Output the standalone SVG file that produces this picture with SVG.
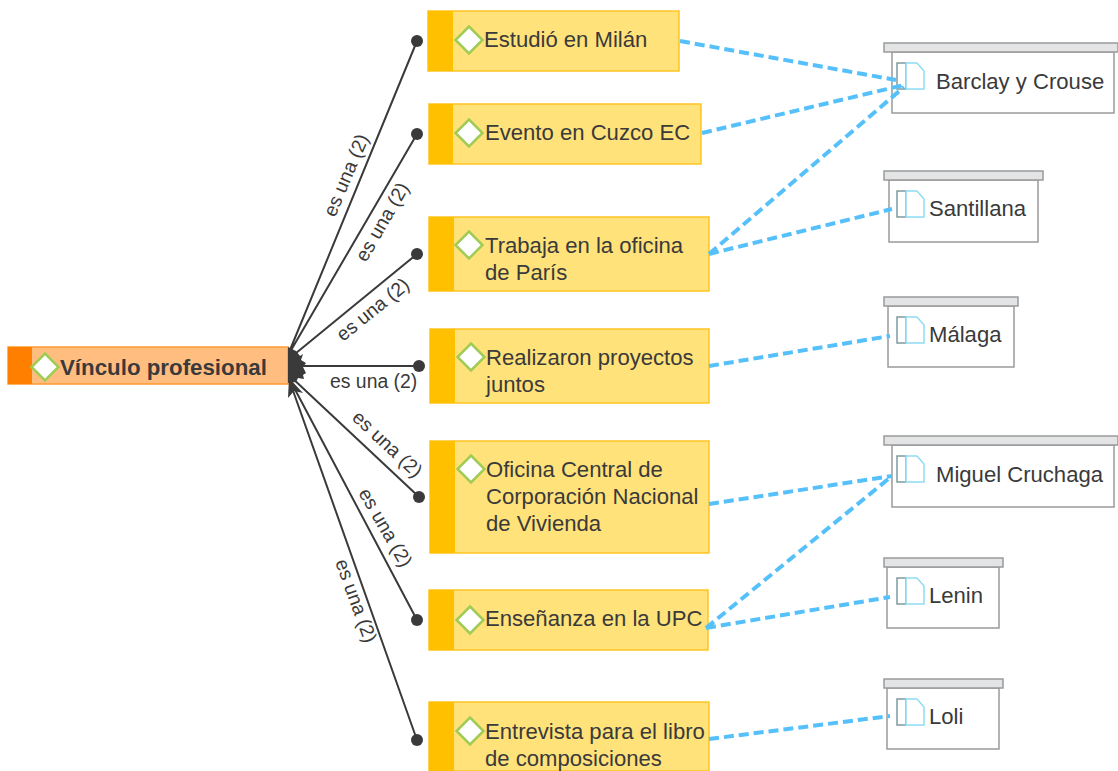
<svg xmlns="http://www.w3.org/2000/svg" width="1118" height="771" viewBox="0 0 1118 771">
<style>
text{font-family:"Liberation Sans",Arial,sans-serif;fill:#3a3a3a;font-size:22.1px}
.t{fill:#ffe27a;stroke:#ffc425;stroke-width:1.5}
.s{fill:#ffc000}
.d{fill:#fff;stroke:#a0cc55;stroke-width:2.5}
.b{fill:#fff;stroke:#9a9a9a;stroke-width:1.5}
.h{fill:#e2e4e6;stroke:#9a9a9a;stroke-width:1.5}
.p{fill:#fff;stroke:#8fdcf5;stroke-width:1.5}
.q{fill:none;stroke:#7f9a9f;stroke-width:1.5}
.k{stroke:#3a3a3a;stroke-width:2;fill:none}
.e{stroke:#55c0fa;stroke-width:4;stroke-dasharray:10 5;fill:none}
text.l{font-size:19.4px}
.o{fill:#3a3a3a}
</style>
<defs>
<g id="doc"><path class="q" d="M-9 0H0V26H-9Z"/><path class="p" d="M0 0H11L18 8V26H0Z"/></g>
<path id="dia" class="d" d="M0 -13.5L13.5 0L0 13.5L-13.5 0Z"/>
</defs>
<g id="n-vinculo"><rect x="8" y="347" width="280" height="37" fill="#ffbe80" stroke="#ff9a30" stroke-width="1.5"/><rect x="8" y="347" width="24" height="37" fill="#ff8000"/><use href="#dia" x="45" y="367"/><text x="60" y="375" font-weight="700" style="font-size:22.3px">Vínculo profesional</text></g>
<g id="n-milan"><rect class="t" x="428" y="11" width="251" height="60"/><rect class="s" x="428" y="11" width="25" height="60"/><use href="#dia" x="469" y="40"/><text x="484" y="47">Estudió en Milán</text></g>
<g id="n-cuzco"><rect class="t" x="429" y="104" width="272" height="60"/><rect class="s" x="429" y="104" width="24" height="60"/><use href="#dia" x="469" y="133"/><text x="485" y="140">Evento en Cuzco EC</text></g>
<g id="n-paris"><rect class="t" x="429" y="217" width="280" height="74"/><rect class="s" x="429" y="217" width="25" height="74"/><use href="#dia" x="469" y="245"/><text x="485" y="253">Trabaja en la oficina</text><text x="485" y="280">de París</text></g>
<g id="n-proyectos"><rect class="t" x="430" y="329" width="279" height="74"/><rect class="s" x="430" y="329" width="25" height="74"/><use href="#dia" x="471" y="357"/><text x="486" y="365">Realizaron proyectos</text><text x="486" y="392">juntos</text></g>
<g id="n-oficina"><rect class="t" x="430" y="441" width="279" height="112"/><rect class="s" x="430" y="441" width="25" height="112"/><use href="#dia" x="471" y="469"/><text x="486" y="477">Oficina Central de</text><text x="486" y="504">Corporación Nacional</text><text x="486" y="531">de Vivienda</text></g>
<g id="n-upc"><rect class="t" x="429" y="590" width="279" height="60"/><rect class="s" x="429" y="590" width="25" height="60"/><use href="#dia" x="470" y="620"/><text x="485" y="626">Enseñanza en la UPC</text></g>
<g id="n-entrevista"><rect class="t" x="429" y="702" width="280" height="69"/><rect class="s" x="429" y="702" width="25" height="69"/><use href="#dia" x="470" y="731"/><text x="485" y="739">Entrevista para el libro</text><text x="485" y="766">de composiciones</text></g>
<g id="n-barclay"><rect class="b" x="892" y="52" width="222" height="61"/><rect class="h" x="884" y="43" width="234" height="9"/><use href="#doc" x="906" y="63"/><text x="936" y="89">Barclay y Crouse</text></g>
<g id="n-santillana"><rect class="b" x="889" y="180" width="149" height="62"/><rect class="h" x="884" y="171" width="159" height="9"/><use href="#doc" x="906" y="191"/><text x="929" y="216">Santillana</text></g>
<g id="n-malaga"><rect class="b" x="888" y="306" width="126" height="61"/><rect class="h" x="884" y="297" width="134" height="9"/><use href="#doc" x="906" y="317"/><text x="929" y="342">Málaga</text></g>
<g id="n-miguel"><rect class="b" x="892" y="445" width="222" height="62"/><rect class="h" x="884" y="436" width="234" height="9"/><use href="#doc" x="906" y="456"/><text x="936" y="482">Miguel Cruchaga</text></g>
<g id="n-lenin"><rect class="b" x="887" y="567" width="112" height="61"/><rect class="h" x="884" y="558" width="119" height="9"/><use href="#doc" x="906" y="578"/><text x="929" y="603">Lenin</text></g>
<g id="n-loli"><rect class="b" x="887" y="688" width="112" height="61"/><rect class="h" x="884" y="679" width="119" height="9"/><use href="#doc" x="906" y="699"/><text x="929" y="724">Loli</text></g>
<g id="connectors">
<path class="k" d="M290 350L417 41M290 352L417 134M290 358L417 254M290 366L418 366M290 376L418 496M290 380L417 620M291 385L417 740"/>
<path class="o" d="M288 347L296 351L300 356L303 354L301 360L306 363L303 367L306 373L303 375L304 379L298 378L296 382L288 383Z"/>
<path class="o" d="M288 398L289 378L303 393L294 391Z"/>
<circle class="o" cx="417" cy="41" r="6"/><circle class="o" cx="417" cy="134" r="6"/><circle class="o" cx="417" cy="254" r="6"/><circle class="o" cx="419" cy="366" r="6"/><circle class="o" cx="419" cy="497" r="6"/><circle class="o" cx="417" cy="620" r="6"/><circle class="o" cx="417" cy="740" r="6"/>
<path class="e" d="M680 41L896 80M702 133L904 85M709 254L904 87M709 254L892 209M709 366L890 336M709 504L892 476M706 628L892 476M706 628L890 597M709 739L890 716"/>
<text class="l" transform="translate(335 218) rotate(-67)">es una (2)</text>
<text class="l" transform="translate(366 263) rotate(-60)">es una (2)</text>
<text class="l" transform="translate(343 342) rotate(-39)">es una (2)</text>
<text class="l" x="330" y="388">es una (2)</text>
<text class="l" transform="translate(351 419) rotate(43)">es una (2)</text>
<text class="l" transform="translate(358 493) rotate(60)">es una (2)</text>
<text class="l" transform="translate(335 562) rotate(70)">es una (2)</text>
</g>
</svg>
